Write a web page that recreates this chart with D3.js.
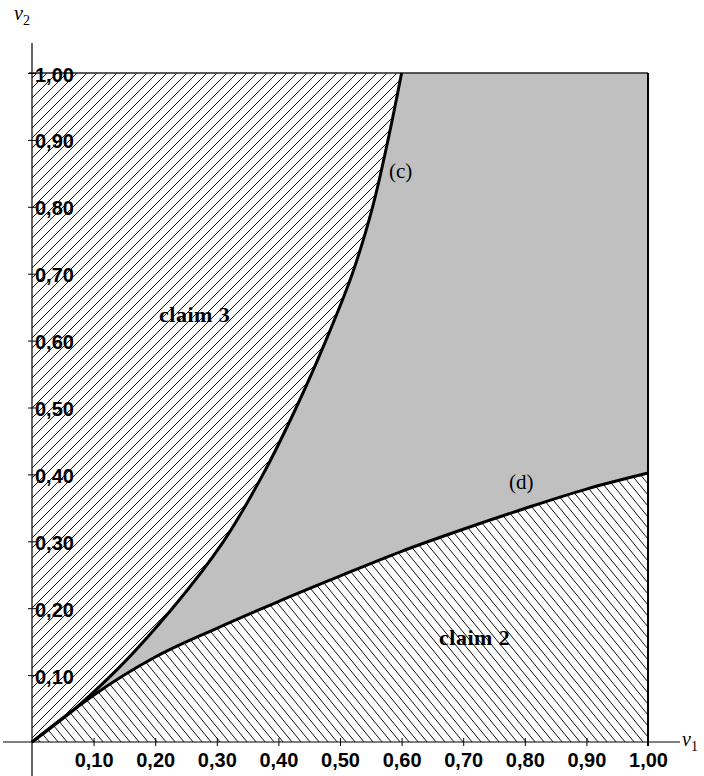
<!DOCTYPE html>
<html>
<head>
<meta charset="utf-8">
<script src="https://cdn.jsdelivr.net/npm/d3@7"></script>
<style>
  html, body { margin: 0; padding: 0; background: #fff; }
  svg { display: block; }
</style>
</head>
<body>
<svg id="chart" width="704" height="776"></svg>
<script>
// ---- data ----
// curve (c): boundary of claim 3 region, listed by v2 level
const curveC_v1 = [0, 0.070, 0.129, 0.228, 0.311, 0.375, 0.429, 0.477, 0.520, 0.553, 0.578, 0.600];
const curveC_v2 = [0, 0.050, 0.100, 0.200, 0.300, 0.400, 0.500, 0.600, 0.700, 0.800, 0.900, 1.000];
// curve (d): boundary of claim 2 region
const curveD_v1 = [0, 0.050, 0.100, 0.200, 0.300, 0.400, 0.500, 0.600, 0.700, 0.800, 0.900, 1.000];
const curveD_v2 = [0, 0.036, 0.070, 0.127, 0.170, 0.210, 0.248, 0.285, 0.318, 0.349, 0.378, 0.402];
const tickValues = [0.1, 0.2, 0.3, 0.4, 0.5, 0.6, 0.7, 0.8, 0.9, 1.0];
const tickLabels = ["0,10", "0,20", "0,30", "0,40", "0,50", "0,60", "0,70", "0,80", "0,90", "1,00"];
const curveLabels = ["(c)", "(d)"];
const regionLabels = ["claim 3", "claim 2"];

// ---- setup ----
const svg = d3.select("#chart");
const x = d3.scaleLinear().domain([0, 1]).range([32, 648]);
const y = d3.scaleLinear().domain([0, 1]).range([742, 73]);

const cPts = curveC_v1.map((v, i) => [v, curveC_v2[i]]);
const dPts = curveD_v1.map((v, i) => [v, curveD_v2[i]]);

const defs = svg.append("defs");
const a = 10;
defs.append("pattern").attr("id", "hatchF").attr("patternUnits", "userSpaceOnUse")
  .attr("width", a).attr("height", a)
  .append("path").attr("d", `M0,${a} L${a},0 M-1,1 L1,-1 M${a-1},${a+1} L${a+1},${a-1}`)
  .attr("stroke", "#111").attr("stroke-width", 1);
const bw = 9, bh = 11;
defs.append("pattern").attr("id", "hatchB").attr("patternUnits", "userSpaceOnUse")
  .attr("width", bw).attr("height", bh)
  .append("path").attr("d", `M0,0 L${bw},${bh} M-1,${bh - bh/bw} L1,${bh + bh/bw} M${bw-1},${-bh/bw} L${bw+1},${bh/bw}`)
  .attr("stroke", "#111").attr("stroke-width", 1);

const lineC = d3.line().x(d => x(d[0])).y(d => y(d[1])).curve(d3.curveMonotoneY);
const lineD = d3.line().x(d => x(d[0])).y(d => y(d[1])).curve(d3.curveMonotoneX);

// gray background (region between the curves)
svg.append("rect").attr("x", x(0)).attr("y", y(1))
  .attr("width", x(1) - x(0)).attr("height", y(0) - y(1)).attr("fill", "#c0c0c0");

// claim 3 region (left of curve c)
const c3 = lineC(cPts) + `L${x(0)},${y(1)}Z`;
svg.append("path").attr("d", c3).attr("fill", "#fff");
svg.append("path").attr("d", c3).attr("fill", "url(#hatchF)");

// claim 2 region (below curve d)
const c2 = lineD(dPts) + `L${x(1)},${y(0)}Z`;
svg.append("path").attr("d", c2).attr("fill", "#fff");
svg.append("path").attr("d", c2).attr("fill", "url(#hatchB)");

// frame lines
svg.append("line").attr("x1", 29).attr("x2", x(1)).attr("y1", y(1)).attr("y2", y(1))
  .attr("stroke", "#222").attr("stroke-width", 1.5);
svg.append("line").attr("x1", x(1)).attr("x2", x(1)).attr("y1", y(1)).attr("y2", y(0) + 4)
  .attr("stroke", "#000").attr("stroke-width", 2);

// curves
svg.append("path").attr("d", lineC(cPts)).attr("fill", "none").attr("stroke", "#000").attr("stroke-width", 3);
svg.append("path").attr("d", lineD(dPts)).attr("fill", "none").attr("stroke", "#000").attr("stroke-width", 3);

// axes
const fmt = v => tickLabels[tickValues.indexOf(v)];
const xAxis = svg.append("g").attr("transform", `translate(0,${y(0)})`)
  .call(d3.axisBottom(x).tickValues(tickValues).tickFormat(fmt).tickSize(4));
xAxis.select(".domain").remove();
xAxis.selectAll(".tick line").attr("y1", -4).attr("y2", 4).attr("stroke", "#000");
xAxis.selectAll(".tick text").attr("y", 25).attr("dy", 0)
  .attr("font-family", "'Liberation Sans', Arial, sans-serif").attr("font-weight", "bold")
  .attr("font-size", 20).attr("fill", "#000");

const yAxis = svg.append("g").attr("transform", `translate(${x(0)},0)`)
  .call(d3.axisLeft(y).tickValues(tickValues).tickFormat(fmt).tickSize(4));
yAxis.select(".domain").remove();
yAxis.selectAll(".tick line").attr("x1", -4).attr("x2", 4).attr("stroke", "#000");
yAxis.selectAll(".tick text").attr("x", 3).attr("dy", 8).attr("text-anchor", "start")
  .attr("font-family", "'Liberation Sans', Arial, sans-serif").attr("font-weight", "bold")
  .attr("font-size", 20).attr("fill", "#000");

// axis lines
svg.append("line").attr("x1", 3).attr("x2", 680).attr("y1", y(0)).attr("y2", y(0))
  .attr("stroke", "#000").attr("stroke-width", 1.2);
svg.append("line").attr("x1", x(0)).attr("x2", x(0)).attr("y1", 43).attr("y2", 776)
  .attr("stroke", "#000").attr("stroke-width", 1.2);

// axis titles
const serif = "'Liberation Serif', 'Times New Roman', serif";
const t2 = svg.append("text").attr("x", 14).attr("y", 20).attr("font-family", serif)
  .attr("font-style", "italic").attr("font-size", 20);
t2.append("tspan").text("v");
t2.append("tspan").attr("font-size", 14).attr("font-style", "normal").attr("dy", 5).text("2");
const t1 = svg.append("text").attr("x", 682).attr("y", 746).attr("font-family", serif)
  .attr("font-style", "italic").attr("font-size", 20);
t1.append("tspan").text("v");
t1.append("tspan").attr("font-size", 14).attr("font-style", "normal").attr("dy", 5).text("1");

// curve labels
svg.append("text").attr("x", 389).attr("y", 178).attr("font-family", serif).attr("font-size", 21).text(curveLabels[0]);
svg.append("text").attr("x", 509).attr("y", 489).attr("font-family", serif).attr("font-size", 21).text(curveLabels[1]);

// region labels
svg.append("text").attr("x", 159).attr("y", 322).attr("font-family", serif).attr("font-weight", "bold")
  .attr("font-size", 22).attr("letter-spacing", 0.5).text(regionLabels[0]);
svg.append("text").attr("x", 439).attr("y", 645).attr("font-family", serif).attr("font-weight", "bold")
  .attr("font-size", 22).attr("letter-spacing", 0.5).text(regionLabels[1]);
</script>
</body>
</html>
